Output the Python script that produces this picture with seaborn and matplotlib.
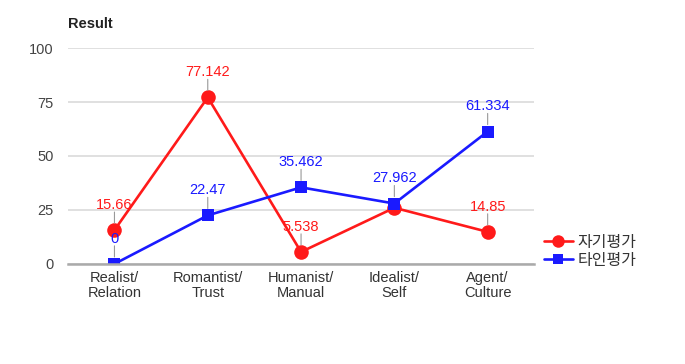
import pandas as pd
import matplotlib.pyplot as plt
import seaborn as sns

# =========================
# Data
# =========================
categories = ["Realist/\nRelation", "Romantist/\nTrust", "Humanist/\nManual",
              "Idealist/\nSelf", "Agent/\nCulture"]
self_eval = [15.66, 77.142, 5.538, 26.0, 14.85]
other_eval = [0, 22.47, 35.462, 27.962, 61.334]
self_labels = ["15.66", "77.142", "5.538", "", "14.85"]
other_labels = ["0", "22.47", "35.462", "27.962", "61.334"]
series_names = ["자기평가", "타인평가"]

RED = "#ff1a1a"
BLUE = "#1a1aff"

df = pd.DataFrame({
    "pos": list(range(len(categories))) * 2,
    "value": self_eval + other_eval,
    "series": [series_names[0]] * len(categories) + [series_names[1]] * len(categories),
})

# =========================
# Plot
# =========================
sns.set_style("white")
plt.rcParams["font.family"] = ["Liberation Sans", "Noto Sans CJK KR"]

fig = plt.figure(figsize=(6.85, 3.64), dpi=100)
ax = fig.add_axes([0.099, 0.275, 0.681, 0.593])

sns.lineplot(data=df, x="pos", y="value", hue="series", style="series",
             palette={series_names[0]: RED, series_names[1]: BLUE},
             markers={series_names[0]: "o", series_names[1]: "s"},
             dashes=False, linewidth=1.9, markeredgewidth=0,
             ax=ax, legend=True)

# bigger markers per series
for line, ms in zip(ax.lines[:2], [10.5, 9]):
    line.set_markersize(ms)

ax.set_xlim(-0.5, len(categories) - 0.5)
ax.set_ylim(0, 100)
ax.set_yticks([0, 25, 50, 75, 100])
ax.set_xticks(range(len(categories)))
ax.set_xticklabels(categories, fontsize=10.5, color="#333333", linespacing=1.1)
ax.tick_params(axis="y", labelsize=10.5, colors="#444444", length=0, pad=10)
ax.tick_params(axis="x", length=0, pad=5)
ax.set_xlabel("")
ax.set_ylabel("")
ax.grid(axis="y", color="#dddddd", linewidth=1.3)
for s in ["top", "right", "left"]:
    ax.spines[s].set_visible(False)
ax.spines["bottom"].set_color("#aaaaaa")
ax.spines["bottom"].set_linewidth(1.8)
ax.set_axisbelow(True)

# data labels with a short grey leader
def add_labels(values, labels, color):
    for i, (v, lab) in enumerate(zip(values, labels)):
        if not lab:
            continue
        ax.annotate("", xy=(i, v), xytext=(0, 13), textcoords="offset points",
                    arrowprops=dict(arrowstyle="-", color="#999999", lw=0.8,
                                    shrinkA=0, shrinkB=5),
                    annotation_clip=False)
        ax.annotate(lab, xy=(i, v), xytext=(0, 13), textcoords="offset points",
                    ha="center", va="bottom", fontsize=10.5, color=color,
                    annotation_clip=False)

add_labels(self_eval, self_labels, RED)
add_labels(other_eval, other_labels, BLUE)

handles, labels = ax.get_legend_handles_labels()
leg = ax.legend(handles, labels, loc="center left", bbox_to_anchor=(0.99, 0.058),
                frameon=False, handlelength=1.8, handletextpad=0.3,
                labelspacing=0.05, labelcolor="#333333",
                prop={"family": ["Noto Sans CJK KR"], "size": 11.5})
for h, ms in zip(leg.legend_handles, [9, 7.5]):
    h.set_markersize(ms)

fig.text(0.099, 0.935, "Result", fontsize=10.5, fontweight="bold", color="#222222",
         va="center", ha="left")

fig.savefig("out.png", dpi=100)
